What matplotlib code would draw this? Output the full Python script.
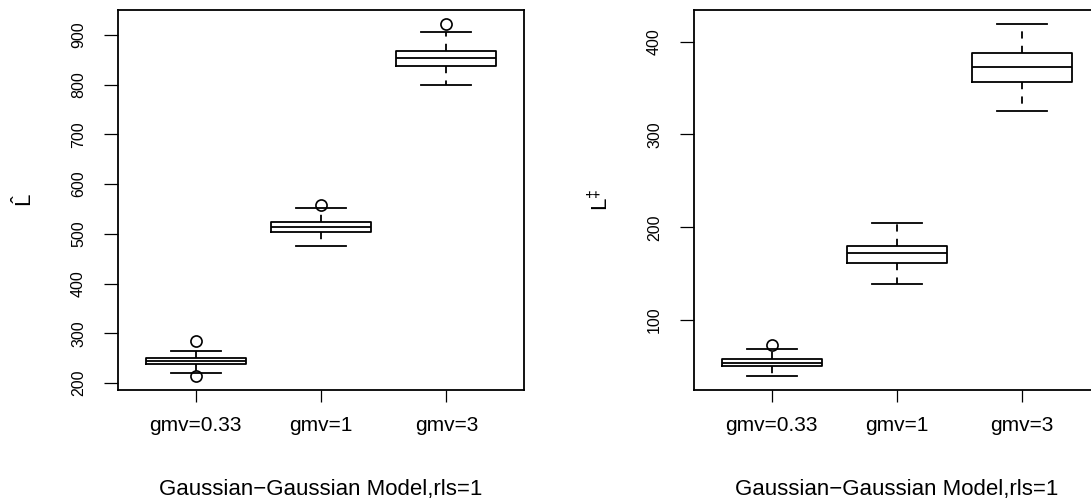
import matplotlib
matplotlib.use('Agg')
import matplotlib.pyplot as plt

plt.rcParams['font.family'] = ['Liberation Sans', 'DejaVu Sans']
plt.rcParams['mathtext.fontset'] = 'custom'
plt.rcParams['mathtext.rm'] = 'Liberation Sans'
plt.rcParams['mathtext.it'] = 'Liberation Sans:italic'

groups = ['gmv=0.33', 'gmv=1', 'gmv=3']

# boxplot summaries: L-hat
lhat_med = [243.6, 513.9, 853.2]
lhat_q1 = [237.5, 503.8, 837.1]
lhat_q3 = [249.6, 524.7, 868.0]
lhat_lo = [220.7, 475.1, 799.0]
lhat_hi = [264.9, 551.4, 906.2]
lhat_out = [[214.0, 283.7], [558.0], [922.3]]

# boxplot summaries: L-double-dagger
ldag_med = [54.1, 172.0, 372.4]
ldag_q1 = [50.2, 162.0, 356.2]
ldag_q3 = [57.7, 179.9, 387.8]
ldag_lo = [39.8, 139.0, 325.8]
ldag_hi = [68.5, 205.0, 419.0]
ldag_out = [[73.4], [], []]

lhat_ticks = [200, 300, 400, 500, 600, 700, 800, 900]
ldag_ticks = [100, 200, 300, 400]


def make_stats(med, q1, q3, lo, hi, out):
    stats = []
    for i in range(len(med)):
        stats.append({'med': med[i], 'q1': q1[i], 'q3': q3[i],
                      'whislo': lo[i], 'whishi': hi[i], 'fliers': out[i]})
    return stats


def draw_panel(ax, stats, ticks, ylabel):
    lw = 1.3
    ax.bxp(stats, positions=[1, 2, 3], widths=0.8, capwidths=0.4,
           boxprops=dict(color='black', linewidth=lw),
           medianprops=dict(color='black', linewidth=lw),
           whiskerprops=dict(color='black', linewidth=lw, linestyle=(0, (4, 4))),
           capprops=dict(color='black', linewidth=lw),
           flierprops=dict(marker='o', markersize=8, markerfacecolor='none',
                           markeredgecolor='black', markeredgewidth=1.2))

    # y range: all values extended by 4%
    vals = [s['whislo'] for s in stats] + [s['whishi'] for s in stats]
    for s in stats:
        vals += list(s['fliers'])
    lo, hi = min(vals), max(vals)
    pad = (hi - lo) * 0.04
    ax.set_ylim(lo - pad, hi + pad)
    ax.set_xlim(0.38, 3.62)

    ax.set_xticks([1, 2, 3])
    ax.set_xticklabels(groups, fontsize=15)
    ax.set_yticks(ticks)
    ax.set_yticklabels([str(t) for t in ticks], fontsize=11.5,
                       rotation=90, va='center')
    ax.tick_params(axis='x', length=8.6, width=0.9, pad=10)
    ax.tick_params(axis='y', length=10, width=0.9, pad=13)
    for sp in ax.spines.values():
        sp.set_linewidth(1.3)

    ax.set_xlabel('Gaussian\u2212Gaussian Model,rls=1', fontsize=16, labelpad=32)
    ax.set_ylabel(ylabel, fontsize=16)
    ax.yaxis.set_label_coords(-0.2, 0.5)


fig = plt.figure(figsize=(10.91, 5.04), dpi=100)
ax1 = fig.add_axes([0.1082, 0.2262, 0.3721, 0.754])
ax2 = fig.add_axes([0.6361, 0.2262, 0.3721, 0.754])

draw_panel(ax1, make_stats(lhat_med, lhat_q1, lhat_q3, lhat_lo, lhat_hi, lhat_out),
           lhat_ticks, r'$\hat{\mathrm{L}}$')
draw_panel(ax2, make_stats(ldag_med, ldag_q1, ldag_q3, ldag_lo, ldag_hi, ldag_out),
           ldag_ticks, r'$\mathrm{L}^{\ddagger}$')

fig.savefig('out.png', dpi=100)
